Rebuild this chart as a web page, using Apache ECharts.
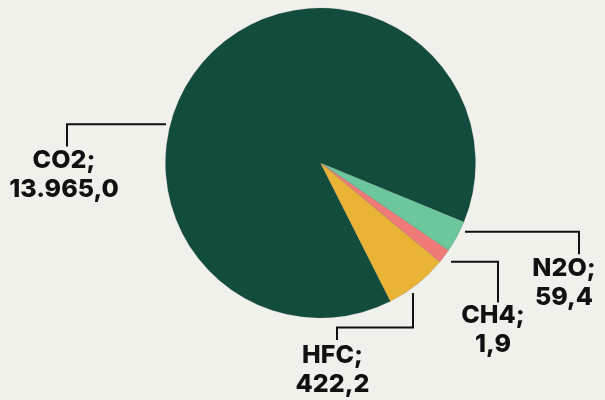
<!DOCTYPE html>
<html>
<head>
<meta charset="utf-8">
<script src="https://cdn.jsdelivr.net/npm/echarts@6/dist/echarts.min.js"></script>
<style>
  html, body { margin: 0; padding: 0; background: #f1f1ec; }
  #chart { width: 605px; height: 400px; }
</style>
</head>
<body>
<div id="chart"></div>
<script>
// Data
const categories = ['CO2', 'N2O', 'CH4', 'HFC'];
// values printed in the labels
const labelValues = [13965.0, 59.4, 1.9, 422.2];
const sliceShares = [88.66, 3.35, 1.47, 6.53];
const colors = ['#124c3c', '#6cc79c', '#f07a78', '#e9b435'];

function fmtDe(v) {
  const parts = v.toFixed(1).split('.');
  const intPart = parts[0].replace(/\B(?=(\d{3})+(?!\d))/g, '.');
  return intPart + ',' + parts[1];
}

// leader-line layout (annotation positions, px)
const leaders = [
  { pts: [[166, 124.3], [67, 124.3], [67, 146.5]], lx: 64, ly: 146 },
  { pts: [[465, 231.7], [579, 231.7], [579, 254.3]], lx: 564, ly: 254 },
  { pts: [[451, 261.7], [498, 261.7], [498, 302.5]], lx: 493, ly: 301 },
  { pts: [[413, 293], [413, 327.5], [337, 327.5], [337, 340]], lx: 332.5, ly: 341 }
];

const chart = echarts.init(document.getElementById('chart'), null, { renderer: 'canvas' });
chart.setOption({
  backgroundColor: '#f1f1ec',
  animation: false,
  series: [{
    type: 'pie',
    center: [320.5, 163],
    radius: 155,
    startAngle: -63.2,
    clockwise: true,
    avoidLabelOverlap: false,
    emphasis: { disabled: true },
    itemStyle: { borderColor: 'rgba(70,70,70,0.35)', borderWidth: 0.5 },
    label: {
      show: true,
      position: 'outside',
      fontFamily: 'Inter',
      fontWeight: 800,
      fontSize: 25,
      lineHeight: 29,
      color: '#111111',
      align: 'center',
      formatter: (p) => categories[p.dataIndex] + ';\n' + fmtDe(labelValues[p.dataIndex])
    },
    labelLine: {
      show: true,
      smooth: false,
      lineStyle: { color: '#111111', width: 2 }
    },
    labelLayout: (params) => {
      const L = leaders[params.dataIndex];
      return {
        x: L.lx,
        y: L.ly,
        align: 'center',
        verticalAlign: 'top',
        labelLinePoints: L.pts
      };
    },
    data: categories.map((c, i) => ({
      name: c,
      value: sliceShares[i],
      itemStyle: { color: colors[i] }
    }))
  }]
});
</script>
</body>
</html>
